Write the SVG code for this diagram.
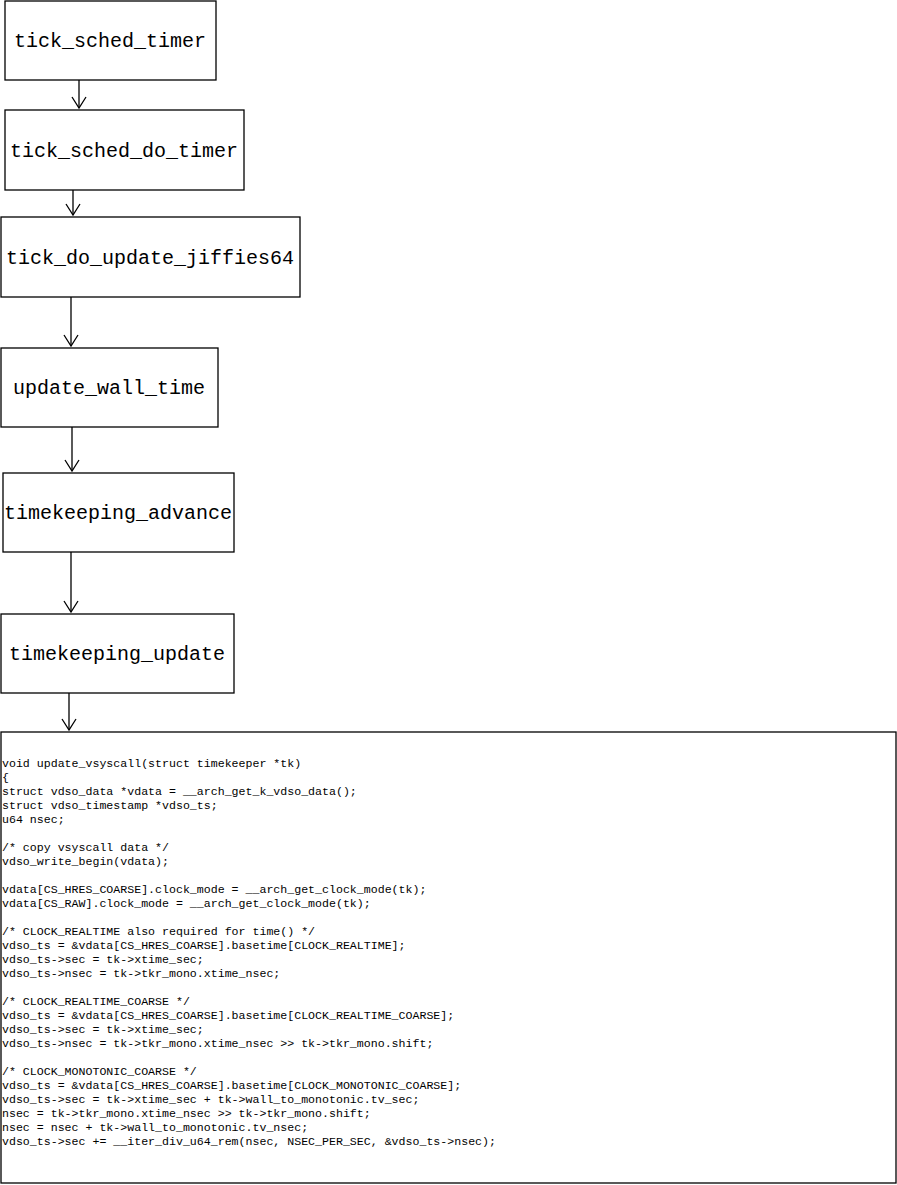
<svg xmlns="http://www.w3.org/2000/svg" width="897" height="1185" viewBox="0 0 897 1185">
<style>
.box{fill:#fff;stroke:#000;stroke-width:1.3}
.lbl{font-family:"Liberation Mono",monospace;font-size:20px;text-anchor:middle;dominant-baseline:central}
.code{font-family:"Liberation Mono",monospace;font-size:11.6px;white-space:pre}
.c{stroke:#000;stroke-width:1.3;fill:none}
</style>
<defs><marker id="a" markerWidth="14" markerHeight="16" refX="12" refY="8" orient="auto" markerUnits="userSpaceOnUse"><path d="M1,1 L12,8 L1,15" fill="none" stroke="#000" stroke-width="1.3"/></marker></defs>
<rect width="897" height="1185" fill="#fff"/>
<g id="connectors">
<path class="c" d="M79,80 L79,108" marker-end="url(#a)"/>
<path class="c" d="M73,190 L73,215" marker-end="url(#a)"/>
<path class="c" d="M71,297 L71,346" marker-end="url(#a)"/>
<path class="c" d="M72,427 L72,471" marker-end="url(#a)"/>
<path class="c" d="M71,552 L71,612" marker-end="url(#a)"/>
<path class="c" d="M69,693 L69,730" marker-end="url(#a)"/>
</g>
<g id="n1"><rect class="box" x="5" y="1" width="211" height="79"/><text class="lbl" x="110" y="41">tick_sched_timer</text></g>
<g id="n2"><rect class="box" x="5" y="110" width="239" height="80"/><text class="lbl" x="124" y="151">tick_sched_do_timer</text></g>
<g id="n3"><rect class="box" x="1" y="217" width="299" height="80"/><text class="lbl" x="150" y="258">tick_do_update_jiffies64</text></g>
<g id="n4"><rect class="box" x="1" y="348" width="217" height="79"/><text class="lbl" x="109" y="388">update_wall_time</text></g>
<g id="n5"><rect class="box" x="3" y="473" width="231" height="79"/><text class="lbl" x="118" y="513">timekeeping_advance</text></g>
<g id="n6"><rect class="box" x="1" y="614" width="233" height="79"/><text class="lbl" x="117" y="654">timekeeping_update</text></g>
<g id="n7"><rect class="box" x="1" y="732" width="895" height="451"/>
<text class="code" x="2" y="767">void update_vsyscall(struct timekeeper *tk)</text>
<text class="code" x="2" y="781">{</text>
<text class="code" x="2" y="795">struct vdso_data *vdata = __arch_get_k_vdso_data();</text>
<text class="code" x="2" y="809">struct vdso_timestamp *vdso_ts;</text>
<text class="code" x="2" y="823">u64 nsec;</text>
<text class="code" x="2" y="851">/* copy vsyscall data */</text>
<text class="code" x="2" y="865">vdso_write_begin(vdata);</text>
<text class="code" x="2" y="893">vdata[CS_HRES_COARSE].clock_mode = __arch_get_clock_mode(tk);</text>
<text class="code" x="2" y="907">vdata[CS_RAW].clock_mode = __arch_get_clock_mode(tk);</text>
<text class="code" x="2" y="935">/* CLOCK_REALTIME also required for time() */</text>
<text class="code" x="2" y="949">vdso_ts = &amp;vdata[CS_HRES_COARSE].basetime[CLOCK_REALTIME];</text>
<text class="code" x="2" y="963">vdso_ts-&gt;sec = tk-&gt;xtime_sec;</text>
<text class="code" x="2" y="977">vdso_ts-&gt;nsec = tk-&gt;tkr_mono.xtime_nsec;</text>
<text class="code" x="2" y="1005">/* CLOCK_REALTIME_COARSE */</text>
<text class="code" x="2" y="1019">vdso_ts = &amp;vdata[CS_HRES_COARSE].basetime[CLOCK_REALTIME_COARSE];</text>
<text class="code" x="2" y="1033">vdso_ts-&gt;sec = tk-&gt;xtime_sec;</text>
<text class="code" x="2" y="1047">vdso_ts-&gt;nsec = tk-&gt;tkr_mono.xtime_nsec &gt;&gt; tk-&gt;tkr_mono.shift;</text>
<text class="code" x="2" y="1075">/* CLOCK_MONOTONIC_COARSE */</text>
<text class="code" x="2" y="1089">vdso_ts = &amp;vdata[CS_HRES_COARSE].basetime[CLOCK_MONOTONIC_COARSE];</text>
<text class="code" x="2" y="1103">vdso_ts-&gt;sec = tk-&gt;xtime_sec + tk-&gt;wall_to_monotonic.tv_sec;</text>
<text class="code" x="2" y="1117">nsec = tk-&gt;tkr_mono.xtime_nsec &gt;&gt; tk-&gt;tkr_mono.shift;</text>
<text class="code" x="2" y="1131">nsec = nsec + tk-&gt;wall_to_monotonic.tv_nsec;</text>
<text class="code" x="2" y="1145">vdso_ts-&gt;sec += __iter_div_u64_rem(nsec, NSEC_PER_SEC, &amp;vdso_ts-&gt;nsec);</text>
</g>
</svg>
